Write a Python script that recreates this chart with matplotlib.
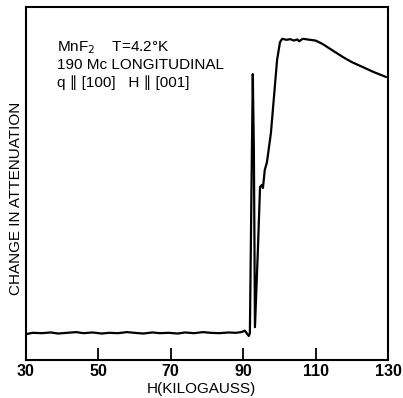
import numpy as np
import matplotlib
matplotlib.use("Agg")
import matplotlib.pyplot as plt

plt.rcParams['font.family'] = ['Liberation Sans', 'DejaVu Sans']

# field (kilogauss) and change in attenuation (arbitrary units, 0-100)
field = [30, 32, 34.5, 37, 39, 41.5, 44, 46, 48.5, 51, 53, 55.5, 58, 60,
         62.5, 65, 67, 69.5, 72, 74, 76.5, 79, 81, 83.5, 86, 88, 89.5, 90.5,
         91.6, 91.9, 92.3, 92.7, 93.0, 93.3, 94.1, 94.7, 95.2, 95.5, 96.0,
         96.6, 97.7, 99.4, 100.2, 100.8, 102, 103, 104, 105, 105.5, 106.5,
         108.5, 110, 112, 115, 117.6, 120, 123, 126, 129.4]
attenuation = [7.3, 7.7, 7.6, 7.8, 7.5, 7.7, 7.9, 7.6, 7.8, 7.5, 7.7, 7.6,
               7.9, 7.7, 7.5, 7.8, 7.6, 7.7, 7.5, 7.8, 7.6, 7.9, 7.7, 7.6,
               7.8, 7.7, 7.9, 8.3,
               6.8, 7.6, 45, 81, 59.5, 9.3, 31, 49, 49.6, 48.7, 53.8,
               56, 64.3, 85, 90, 91, 90.7, 90.9, 90.5, 90.8, 90.3, 91,
               90.7, 90.5, 89.5, 87.5, 85.8, 84.4, 83, 81.6, 80.2]
xticks = [30, 50, 70, 90, 110, 130]

fig = plt.figure(figsize=(4.03, 3.98), dpi=100)
ax = fig.add_axes([25.5 / 403, 1 - 360 / 398, 362.5 / 403, 353 / 398])

ax.plot(field, attenuation, color='black', lw=1.6)

ax.set_xlim(30, 130)
ax.set_ylim(0, 100)
ax.set_xticks(xticks)
ax.set_xticklabels([str(t) for t in xticks], fontsize=11.5, fontweight='bold')
ax.set_yticks([])
ax.tick_params(axis='x', direction='in', length=8.5, width=1.3, pad=3)
for s in ax.spines.values():
    s.set_linewidth(1.5)

ax.text(0.087, 0.884, 'MnF$_2$    T=4.2°K', transform=ax.transAxes,
        fontsize=11, va='center', ha='left')
ax.text(0.087, 0.836, '190 Mc LONGITUDINAL', transform=ax.transAxes,
        fontsize=11, va='center', ha='left')
ax.text(0.087, 0.785, 'q ∥ [100]   H ∥ [001]', transform=ax.transAxes,
        fontsize=11, va='center', ha='left')

fig.text(16 / 403, 1 - 198 / 398, 'CHANGE IN ATTENUATION', rotation=90,
         ha='center', va='center', fontsize=11)
fig.text(201 / 403, 1 - 389 / 398, 'H(KILOGAUSS)', ha='center', va='center',
         fontsize=11)

fig.savefig('out.png', dpi=100)
